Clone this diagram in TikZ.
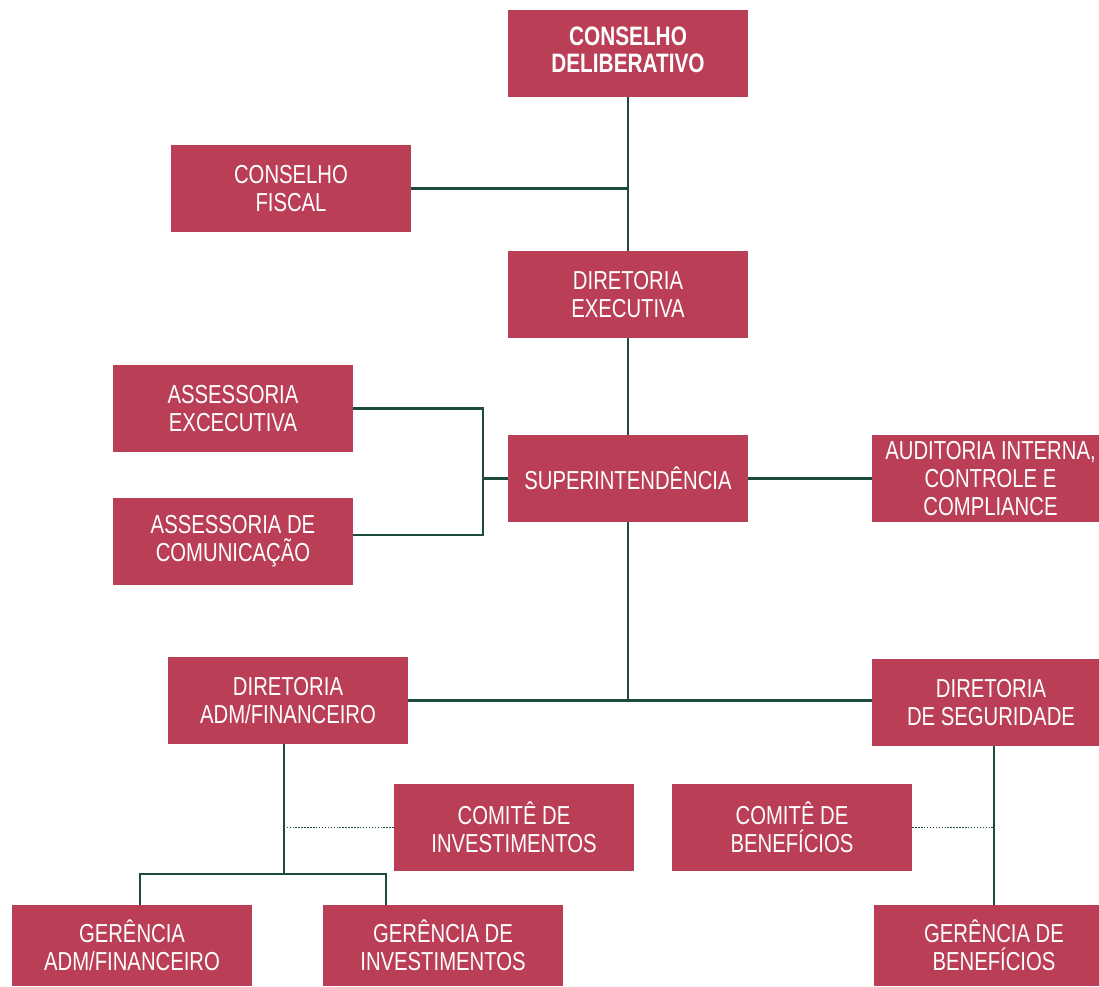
\documentclass[tikz,border=0pt]{standalone}
\usepackage{fontspec}
\setmainfont[FakeStretch=0.78]{Liberation Sans}
\definecolor{boxred}{HTML}{BA3E56}
\definecolor{linegreen}{HTML}{1D4A3F}
\tikzset{
  orgbox/.style={fill=boxred, text=white, inner sep=0pt, align=center,
    font=\fontsize{19.5}{21}\selectfont, minimum width=180pt, minimum height=65.25pt},
  lowbox/.style={orgbox, minimum height=60.75pt},
  conn/.style={draw=linegreen, line width=1.6pt},
  dotconn/.style={draw=linegreen, line width=1.4pt, dash pattern=on 1.1pt off 1.1pt},
}
\begin{document}
\begin{tikzpicture}[x=0.75pt,y=-0.75pt]
\useasboundingbox (0,0) rectangle (1099,986);
% boxes
\fill[boxred] (508,10) rectangle (748,97);
\node[inner sep=0pt, text=white, align=center, font=\fontsize{20}{21.5}\selectfont\bfseries, minimum width=180pt, minimum height=65.25pt] (cd) at (628,53.5) {\raisebox{3.5pt}{\begin{tabular}{@{}c@{}}CONSELHO\\[-1.5pt]DELIBERATIVO\end{tabular}}};
\node[orgbox] (cf) at (291,188.5) {CONSELHO\\FISCAL};
\node[orgbox] (de) at (628,294.5) {DIRETORIA\\EXECUTIVA};
\node[orgbox] (ae) at (233,408.5) {ASSESSORIA\\EXCECUTIVA};
\node[orgbox] (sup) at (628,478.5) {SUPERINTENDÊNCIA};
\node[orgbox, minimum width=177.75pt] (aud) at (990.5,478.5) {AUDITORIA INTERNA,\\CONTROLE E\\COMPLIANCE};
\node[orgbox] (ac) at (233,541.5) {ASSESSORIA DE\\COMUNICAÇÃO};
\node[orgbox] (daf) at (288,700.5) {DIRETORIA\\ADM/FINANCEIRO};
\node[orgbox, minimum width=178.5pt] (ds) at (991,702.5) {DIRETORIA\\DE SEGURIDADE};
\node[orgbox] (ci) at (514,827.5) {COMITÊ DE\\INVESTIMENTOS};
\node[orgbox] (cb) at (792,827.5) {COMITÊ DE\\BENEFÍCIOS};
\node[lowbox] (gaf) at (132,945.5) {GERÊNCIA\\ADM/FINANCEIRO};
\node[lowbox] (gi) at (443,945.5) {GERÊNCIA DE\\INVESTIMENTOS};
\node[lowbox] (gb) at (994,945.5) {GERÊNCIA DE\\BENEFÍCIOS};
% coordinates
\coordinate (bt) at (483,408.5);
\coordinate (bb) at (483,535);
\coordinate (j2) at (284,874);
\coordinate (gl) at (140,874);
\coordinate (gr) at (386,874);
\coordinate (j3) at (994,746);
% connectors
\draw[conn] (cd.south) -- (de.north);
\draw[conn] (cf.east) -- (cf.east -| cd.south);
\draw[conn] (de.south) -- (sup.north);
\draw[conn] (sup.east) -- (sup.east -| aud.west);
\draw[conn] (ae.east) -- (bt) -- (bb) -- (ac.east |- bb);
\draw[conn] (bt |- sup.west) -- (sup.west);
\draw[conn] (sup.south) -- (sup.south |- daf.east);
\draw[conn] (daf.east) -- (daf.east -| ds.west);
\draw[conn] (daf.south -| j2) -- (j2);
\draw[conn] (gaf.north -| gl) -- (gl) -- (gr) -- (gi.north -| gr);
\draw[dotconn] (ci.west) -- (ci.west -| j2);
\draw[conn] (ds.south -| j3) -- (gb.north -| j3);
\draw[dotconn] (cb.east) -- (cb.east -| j3);
\end{tikzpicture}
\end{document}
